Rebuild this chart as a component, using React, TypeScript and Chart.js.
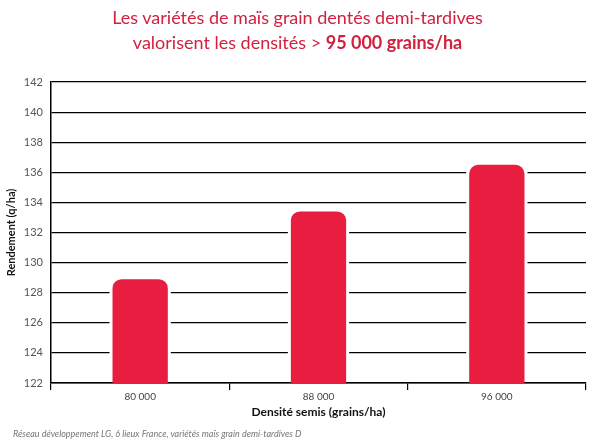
import { useEffect, useRef } from 'react';
import { Chart, registerables } from 'chart.js';
import type { Plugin } from 'chart.js';

Chart.register(...registerables);

// Data
const densities = ['80 000', '88 000', '96 000'];
const yields = [128.9, 133.4, 136.5];
const yMin = 122;
const yMax = 142;
const yStep = 2;

const RED = '#e91d3f';
const FONT = 'Lato, "Open Sans", sans-serif';

// White halo behind the bars so the grid lines stop just short of them
const barHalo: Plugin<'bar'> = {
  id: 'barHalo',
  beforeDatasetsDraw(chart) {
    const { ctx, chartArea } = chart;
    const meta = chart.getDatasetMeta(0);
    ctx.save();
    ctx.fillStyle = '#ffffff';
    meta.data.forEach((el: any) => {
      const { x, y, width, base } = el.getProps(['x', 'y', 'width', 'base'], true);
      const gap = 3;
      ctx.fillRect(x - width / 2 - gap, y - gap, width + gap * 2, Math.min(base, chartArea.bottom) - 1 - (y - gap));
    });
    ctx.restore();
  },
};

export default function App() {
  const canvasRef = useRef<HTMLCanvasElement>(null);
  const chartRef = useRef<Chart | null>(null);

  useEffect(() => {
    if (!canvasRef.current) return;
    if (chartRef.current) chartRef.current.destroy();

    chartRef.current = new Chart(canvasRef.current, {
      type: 'bar',
      data: {
        labels: densities,
        datasets: [{
          data: yields,
          backgroundColor: RED,
          borderRadius: 9,
          borderSkipped: 'bottom',
          barPercentage: 0.31,
          categoryPercentage: 1,
        }],
      },
      options: {
        animation: false,
        responsive: true,
        maintainAspectRatio: false,
        layout: { padding: { top: 82, right: 9, left: 0, bottom: 0 } },
        plugins: {
          legend: { display: false },
          tooltip: { enabled: false },
          title: { display: false },
        },
        scales: {
          x: {
            afterFit: (axis) => { axis.height = 59; },
            grid: {
              display: true,
              offset: true,
              drawOnChartArea: false,
              color: '#000',
              lineWidth: 1.2,
              tickLength: 7,
            },
            border: { display: true, color: '#000', width: 1.5 },
            ticks: { color: '#444', font: { family: FONT, size: 10 }, padding: 1 },
            title: {
              display: true,
              text: 'Densité semis (grains/ha)',
              color: '#111',
              font: { family: FONT, size: 12, weight: 'bold' },
              padding: { bottom: 23 },
            },
          },
          y: {
            min: yMin,
            max: yMax,
            afterFit: (axis) => { axis.width = 51; },
            grid: { color: '#000', lineWidth: 1.2, drawTicks: false },
            border: { display: true, color: '#000', width: 1.5 },
            ticks: {
              stepSize: yStep,
              color: '#555',
              padding: 8,
              font: { family: FONT, size: 11 },
            },
            title: {
              display: true,
              text: 'Rendement (q/ha)',
              color: '#111',
              font: { family: FONT, size: 11, weight: 'bold' },
              padding: { top: 5 },
            },
          },
        },
      },
      plugins: [barHalo],
    });

    return () => {
      if (chartRef.current) {
        chartRef.current.destroy();
        chartRef.current = null;
      }
    };
  }, []);

  return (
    <div style={{ position: 'fixed', top: 0, left: 0, width: 595, height: 442, background: '#fff', fontFamily: FONT }}>
      <canvas ref={canvasRef} />
      <div style={{ position: 'absolute', top: 5, left: 0, width: 595, textAlign: 'center', color: '#d2213f', fontSize: 18, lineHeight: '25px' }}>
        Les variétés de maïs grain dentés demi-tardives<br />
        valorisent les densités &gt; <b>95 000 grains/ha</b>
      </div>
      <div style={{ position: 'absolute', top: 428, left: 13, color: '#777', fontSize: 9, fontStyle: 'italic' }}>
        Réseau développement LG, 6 lieux France, variétés maïs grain demi-tardives D
      </div>
    </div>
  );
}
